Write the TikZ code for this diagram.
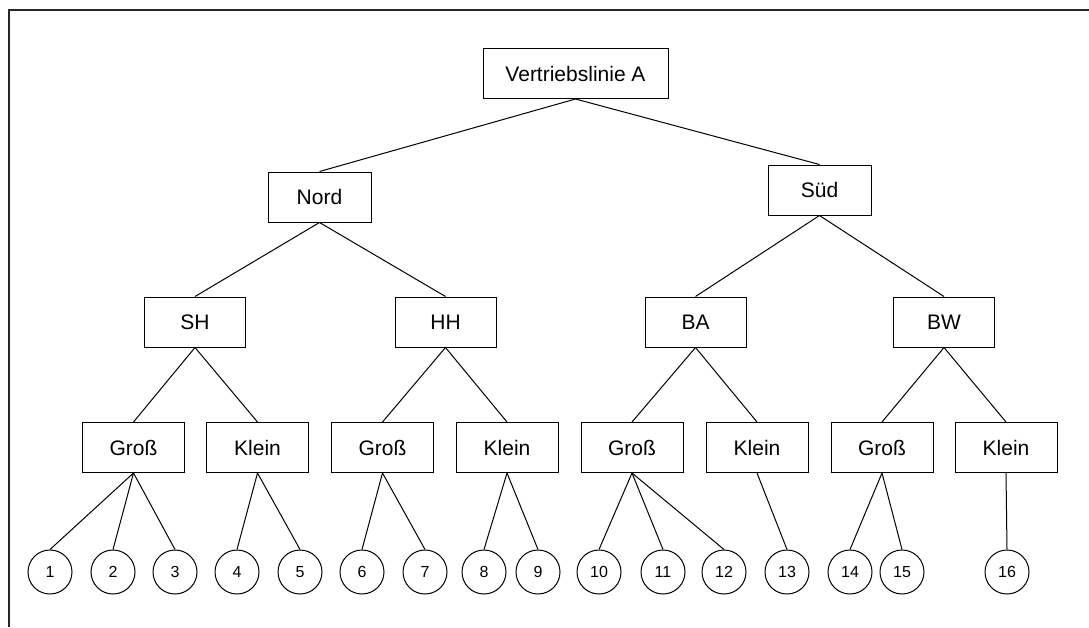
\documentclass[tikz,border=0pt]{standalone}
\usepackage{fontspec}
\setmainfont{Liberation Sans}
\begin{document}
\begin{tikzpicture}[x=1pt,y=-1pt,
  box/.style={draw, line width=1pt, inner sep=0pt, minimum height=50pt,
    font=\fontsize{21}{24}\selectfont},
  leaf/.style={draw, circle, line width=1pt, inner sep=0pt, minimum size=44pt,
    font=\fontsize{16}{18}\selectfont},
  link/.style={line width=1pt}]
\useasboundingbox (0,0) rectangle (1089,627);
% frame edges along the top and left
\draw[line width=2pt, black!85] (1089,10) -- (8.5,10) -- (8.5,627);

% root
\node[box, minimum width=185pt] (root) at (575.5,73.5) {Vertriebslinie A};

% regions
\node[box, minimum width=103pt] (nord) at (319.5,197) {Nord};
\node[box, minimum width=103pt] (sued) at (819.5,190) {Süd};

% states
\node[box, minimum width=101pt] (sh) at (195,322) {SH};
\node[box, minimum width=101pt] (hh) at (445.5,322) {HH};
\node[box, minimum width=101pt] (ba) at (695.5,322) {BA};
\node[box, minimum width=101pt] (bw) at (944,322) {BW};

% customer sizes
\foreach \n/\x/\t in {g1/133.5/Groß, k1/257.5/Klein, g2/382.5/Groß, k2/507/Klein,
                      g3/632/Groß, k3/757/Klein, g4/882/Groß, k4/1006/Klein}
  \node[box, minimum width=102pt] (\n) at (\x,447.5) {\t};

% leaves
\foreach \i/\x in {1/50, 2/113, 3/175, 4/237, 5/300, 6/362, 7/425, 8/484,
                   9/538, 10/599, 11/663, 12/724, 13/787, 14/850, 15/902, 16/1007}
  \node[leaf] (c\i) at (\x,572) {\i};

% connectors
\draw[link] (root.south) -- (nord.north);
\draw[link] (root.south) -- (sued.north);
\draw[link] (nord.south) -- (sh.north);
\draw[link] (nord.south) -- (hh.north);
\draw[link] (sued.south) -- (ba.north);
\draw[link] (sued.south) -- (bw.north);
\draw[link] (sh.south) -- (g1.north);
\draw[link] (sh.south) -- (k1.north);
\draw[link] (hh.south) -- (g2.north);
\draw[link] (hh.south) -- (k2.north);
\draw[link] (ba.south) -- (g3.north);
\draw[link] (ba.south) -- (k3.north);
\draw[link] (bw.south) -- (g4.north);
\draw[link] (bw.south) -- (k4.north);
\foreach \p/\c in {g1/1, g1/2, g1/3, k1/4, k1/5, g2/6, g2/7, k2/8, k2/9,
                   g3/10, g3/11, g3/12, k3/13, g4/14, g4/15, k4/16}
  \draw[link] (\p.south) -- (c\c.north);
\end{tikzpicture}
\end{document}
